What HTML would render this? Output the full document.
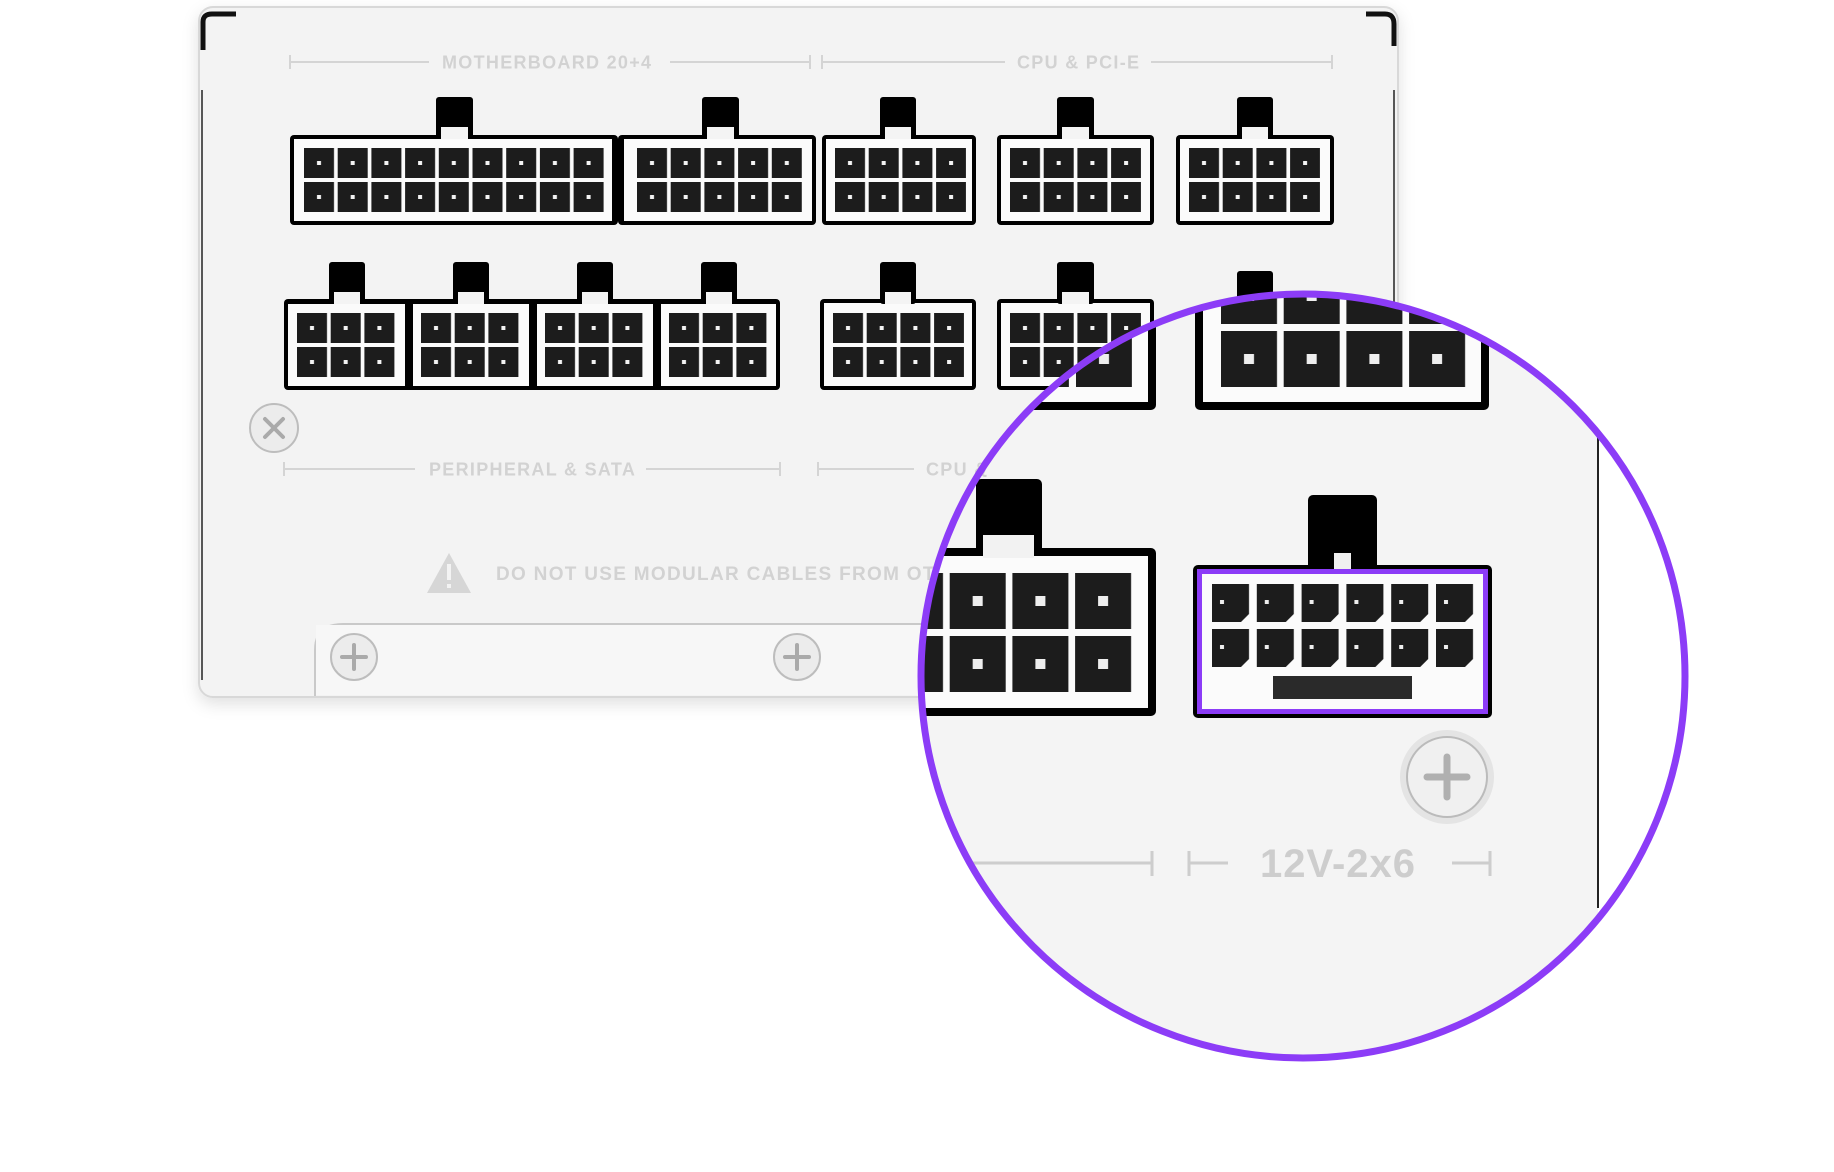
<!DOCTYPE html>
<html><head><meta charset="utf-8"><style>
html,body{margin:0;padding:0;background:#fff;}
svg{display:block;}
text{font-family:"Liberation Sans",sans-serif;font-weight:bold;}
</style></head><body>
<svg width="1834" height="1172" viewBox="0 0 1834 1172" xmlns="http://www.w3.org/2000/svg">
<defs>
 <pattern id="c" width="33.7" height="34" patternUnits="userSpaceOnUse">
  <rect x="0" y="0" width="30" height="30" fill="#1c1c1c"/>
  <rect x="13" y="13" width="4" height="4" fill="#f4f4f4"/>
 </pattern>
 <pattern id="cb" width="62.7" height="63" patternUnits="userSpaceOnUse">
  <rect x="0" y="0" width="56" height="56" fill="#1c1c1c"/>
  <rect x="23" y="23" width="10" height="10" fill="#eee"/>
 </pattern>
 <pattern id="c12" width="44.8" height="45" patternUnits="userSpaceOnUse">
  <polygon points="0,0 37,0 37,30 29,38 0,38" fill="#1c1c1c"/>
  <rect x="8" y="16" width="4" height="4" fill="#eee"/>
 </pattern>
 <clipPath id="circ"><circle cx="1303" cy="676" r="382"/></clipPath>
 <filter id="sh" x="-10%" y="-10%" width="120%" height="130%"><feDropShadow dx="0" dy="6" stdDeviation="8" flood-color="#000" flood-opacity="0.12"/></filter>
</defs>

<!-- panel -->
<rect x="199" y="7" width="1199" height="690" rx="14" fill="#f3f3f3" stroke="#d8d8d8" stroke-width="2" filter="url(#sh)"/>
<path d="M203 50 V22 Q203 14 212 14 H236" fill="none" stroke="#111" stroke-width="5"/>
<path d="M1366 14 H1385 Q1394 14 1394 24 V46" fill="none" stroke="#111" stroke-width="5"/>
<line x1="202" y1="90" x2="202" y2="680" stroke="#222" stroke-width="1.5"/>
<line x1="1394" y1="90" x2="1394" y2="690" stroke="#222" stroke-width="1.5"/>
<path d="M315 696 V650 Q315 624 343 624 H1000" fill="none" stroke="#c9c9c9" stroke-width="2"/>
<rect x="316" y="625" width="684" height="70" fill="#f7f7f7"/>

<!-- labels -->
<g stroke="#d4d4d4" stroke-width="2">
 <line x1="290" y1="62" x2="429" y2="62"/><line x1="290" y1="55" x2="290" y2="69"/>
 <line x1="670" y1="62" x2="810" y2="62"/><line x1="810" y1="55" x2="810" y2="69"/>
 <line x1="822" y1="62" x2="1005" y2="62"/><line x1="822" y1="55" x2="822" y2="69"/>
 <line x1="1151" y1="62" x2="1332" y2="62"/><line x1="1332" y1="55" x2="1332" y2="69"/>
 <line x1="284" y1="469" x2="415" y2="469"/><line x1="284" y1="462" x2="284" y2="476"/>
 <line x1="646" y1="469" x2="780" y2="469"/><line x1="780" y1="462" x2="780" y2="476"/>
 <line x1="818" y1="469" x2="914" y2="469"/><line x1="818" y1="462" x2="818" y2="476"/>
</g>
<g fill="#d2d2d2" font-size="18" letter-spacing="1.3">
 <text x="442" y="68.5">MOTHERBOARD 20+4</text>
 <text x="1017" y="68.5">CPU &amp; PCI-E</text>
 <text x="429" y="475.5">PERIPHERAL &amp; SATA</text>
 <text x="926" y="475.5">CPU &amp;</text>
 <text x="496" y="580" font-size="19">DO NOT USE MODULAR CABLES FROM OTHER PSUS</text>
</g>
<polygon points="449,553 471,593 427,593" fill="#d6d6d6"/>
<rect x="447" y="564" width="4" height="16" fill="#f3f3f3"/><rect x="447" y="584" width="4" height="4" fill="#f3f3f3"/>

<!-- screws -->
<g stroke="#bdbdbd" stroke-width="2" fill="#ececec">
 <circle cx="274" cy="428" r="24"/><circle cx="354" cy="657" r="23"/><circle cx="797" cy="657" r="23"/>
</g>
<g stroke="#aaa" stroke-width="4" stroke-linecap="round">
 <path d="M265 419 L283 437 M283 419 L265 437"/>
 <path d="M354 645 V669 M342 657 H366"/>
 <path d="M797 645 V669 M785 657 H809"/>
</g>

<!-- top row connectors -->
<g>
 <rect x="290" y="135" width="328" height="90" rx="4" fill="#000"/>
 <rect x="294" y="139" width="318" height="82" fill="#fbfbfb"/>
 <rect x="618" y="135" width="198" height="90" rx="4" fill="#000"/>
 <rect x="624" y="139" width="188" height="82" fill="#fbfbfb"/>
 <rect x="822" y="135" width="154" height="90" rx="4" fill="#000"/>
 <rect x="826" y="139" width="146" height="82" fill="#fbfbfb"/>
 <rect x="997" y="135" width="157" height="90" rx="4" fill="#000"/>
 <rect x="1001" y="139" width="149" height="82" fill="#fbfbfb"/>
 <rect x="1176" y="135" width="158" height="90" rx="4" fill="#000"/>
 <rect x="1180" y="139" width="150" height="82" fill="#fbfbfb"/>
 <g fill="#000">
  <rect x="436" y="97" width="37" height="42" rx="3"/><rect x="702" y="97" width="37" height="42" rx="3"/>
  <rect x="880" y="97" width="36" height="42" rx="3"/><rect x="1057" y="97" width="37" height="42" rx="3"/>
  <rect x="1237" y="97" width="36" height="42" rx="3"/>
 </g>
 <g fill="#f4f4f4">
  <rect x="441" y="127" width="27" height="12"/><rect x="707" y="127" width="27" height="12"/>
  <rect x="885" y="127" width="26" height="12"/><rect x="1062" y="127" width="27" height="12"/>
  <rect x="1242" y="127" width="26" height="12"/>
 </g>
 <g transform="translate(304,148)"><rect width="300" height="64" fill="url(#c)"/></g>
 <g transform="translate(637,148)"><rect width="165" height="64" fill="url(#c)"/></g>
 <g transform="translate(835,148)"><rect width="131" height="64" fill="url(#c)"/></g>
 <g transform="translate(1010,148)"><rect width="131" height="64" fill="url(#c)"/></g>
 <g transform="translate(1189,148)"><rect width="131" height="64" fill="url(#c)"/></g>
</g>

<!-- second row -->
<g>
 <rect x="284" y="299" width="496" height="91" rx="4" fill="#000"/>
 <rect x="288" y="312" width="117" height="74" fill="#fbfbfb"/>
 <rect x="413" y="312" width="116" height="74" fill="#fbfbfb"/>
 <rect x="537" y="312" width="116" height="74" fill="#fbfbfb"/>
 <rect x="661" y="312" width="115" height="74" fill="#fbfbfb"/>
 <rect x="288" y="304" width="488" height="10" fill="#fbfbfb"/>
 <rect x="405" y="304" width="8" height="82" fill="#000"/><rect x="529" y="304" width="8" height="82" fill="#000"/><rect x="653" y="304" width="8" height="82" fill="#000"/>
 <rect x="820" y="299" width="156" height="91" rx="4" fill="#000"/>
 <rect x="824" y="303" width="148" height="83" fill="#fbfbfb"/>
 <rect x="997" y="299" width="157" height="91" rx="4" fill="#000"/>
 <rect x="1001" y="303" width="149" height="83" fill="#fbfbfb"/>
 <g fill="#000">
  <rect x="329" y="262" width="36" height="42" rx="3"/><rect x="453" y="262" width="36" height="42" rx="3"/>
  <rect x="577" y="262" width="36" height="42" rx="3"/><rect x="701" y="262" width="36" height="42" rx="3"/>
  <rect x="880" y="262" width="36" height="42" rx="3"/><rect x="1057" y="262" width="37" height="42" rx="3"/>
  <rect x="1237" y="271" width="36" height="30" rx="3"/>
 </g>
 <g fill="#f4f4f4">
  <rect x="334" y="292" width="26" height="12"/><rect x="458" y="292" width="26" height="12"/>
  <rect x="582" y="292" width="26" height="12"/><rect x="706" y="292" width="26" height="12"/>
  <rect x="885" y="292" width="26" height="12"/><rect x="1062" y="292" width="27" height="12"/>
 </g>
 <g transform="translate(297,313)"><rect width="98" height="64" fill="url(#c)"/></g>
 <g transform="translate(421,313)"><rect width="98" height="64" fill="url(#c)"/></g>
 <g transform="translate(545,313)"><rect width="98" height="64" fill="url(#c)"/></g>
 <g transform="translate(669,313)"><rect width="98" height="64" fill="url(#c)"/></g>
 <g transform="translate(833,313)"><rect width="131" height="64" fill="url(#c)"/></g>
 <g transform="translate(1010,313)"><rect width="131" height="64" fill="url(#c)"/></g>
</g>

<!-- magnified circle -->
<g clip-path="url(#circ)">
 <rect x="900" y="280" width="800" height="800" fill="#f4f4f4"/>
 <rect x="1598" y="280" width="200" height="800" fill="#fff"/>
 <line x1="1598" y1="280" x2="1598" y2="908" stroke="#222" stroke-width="2"/>
 <rect x="1195" y="260" width="294" height="150" rx="5" fill="#000"/>
 <rect x="1203" y="260" width="278" height="142" fill="#fbfbfb"/>
 <g transform="translate(1221,268)"><rect width="250" height="119" fill="url(#cb)"/></g>
 <rect x="840" y="260" width="316" height="150" rx="5" fill="#000"/>
 <rect x="848" y="260" width="300" height="142" fill="#fbfbfb"/>
 <g transform="translate(1076,268)"><rect width="56" height="119" fill="url(#cb)"/></g>
 <g transform="translate(1013,268)"><rect width="56" height="119" fill="url(#cb)"/></g>
 <text x="925" y="477" font-size="20" fill="#cfcfcf">CPU &amp;</text>
 <rect x="976" y="479" width="66" height="75" rx="5" fill="#000"/>
 <rect x="983" y="535" width="51" height="20" fill="#f2f2f2"/>
 <rect x="880" y="548" width="276" height="168" rx="5" fill="#000"/>
 <rect x="888" y="556" width="260" height="152" fill="#fbfbfb"/>
 <rect x="983" y="548" width="51" height="10" fill="#f2f2f2"/>
 <g transform="translate(887,573)"><rect width="245" height="119" fill="url(#cb)"/></g>
 <rect x="1308" y="495" width="69" height="75" rx="5" fill="#000"/>
 <rect x="1193" y="565" width="299" height="153" rx="5" fill="#000"/>
 <rect x="1197" y="569" width="291" height="145" fill="#8c3cf7"/>
 <rect x="1202" y="574" width="281" height="135" fill="#fbfbfb"/>
 <rect x="1334" y="553" width="17" height="16" fill="#f0f0f0"/>
 <g transform="translate(1212,584)"><rect width="268" height="84" fill="url(#c12)"/></g>
 <rect x="1273" y="676" width="139" height="23" fill="#2a2a2a"/>
 <circle cx="1447" cy="777" r="47" fill="#e4e4e4"/>
 <circle cx="1447" cy="777" r="40" fill="#f0f0f0" stroke="#bbb" stroke-width="2"/>
 <path d="M1447 757 V797 M1427 777 H1467" stroke="#b0b0b0" stroke-width="7" stroke-linecap="round"/>
 <g stroke="#cdcdcd" stroke-width="3">
  <line x1="960" y1="863" x2="1152" y2="863"/><line x1="1152" y1="851" x2="1152" y2="876"/>
  <line x1="1189" y1="863" x2="1228" y2="863"/><line x1="1189" y1="851" x2="1189" y2="876"/>
  <line x1="1452" y1="863" x2="1490" y2="863"/><line x1="1490" y1="851" x2="1490" y2="876"/>
 </g>
 <text x="1338" y="877" font-size="40" fill="#cdcdcd" text-anchor="middle" letter-spacing="1">12V-2x6</text>
</g>
<circle cx="1303" cy="676" r="382" fill="none" stroke="#8c3cf7" stroke-width="7"/>
</svg>
</body></html>
